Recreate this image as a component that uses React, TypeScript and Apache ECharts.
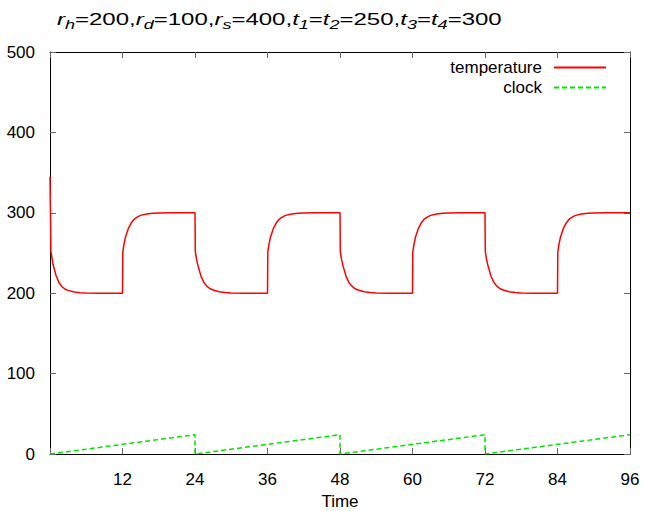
import React, { useEffect, useRef } from "react";
import * as echarts from "echarts";

// Temperature readings, [time, value], one list per half cycle
const cooling0 = [[0, 345], [0.15, 252], [0.5, 236], [1, 222], [1.5, 213], [2, 208], [2.5, 205], [3, 203.5], [4, 201.5], [5, 200.6], [6, 200.3], [8, 200], [12, 200]];
const heating0 = [[12.05, 251], [12.25, 261], [12.5, 270], [13, 281], [13.5, 288], [14, 292.5], [14.5, 295], [15, 296.8], [16, 298.6], [17, 299.4], [18, 299.7], [20, 300], [24, 300]];
const cooling1 = [[24.05, 252], [24.25, 242], [24.5, 234], [25, 221], [25.5, 213], [26, 208.5], [26.5, 205.5], [27, 204], [28, 201.8], [29, 200.8], [30, 200.4], [32, 200], [36, 200]];
const heating1 = [[36.05, 251], [36.25, 261], [36.5, 270], [37, 281], [37.5, 288], [38, 292.5], [38.5, 295], [39, 296.8], [40, 298.6], [41, 299.4], [42, 299.7], [44, 300], [48, 300]];
const cooling2 = [[48.05, 252], [48.25, 242], [48.5, 234], [49, 221], [49.5, 213], [50, 208.5], [50.5, 205.5], [51, 204], [52, 201.8], [53, 200.8], [54, 200.4], [56, 200], [60, 200]];
const heating2 = [[60.05, 251], [60.25, 261], [60.5, 270], [61, 281], [61.5, 288], [62, 292.5], [62.5, 295], [63, 296.8], [64, 298.6], [65, 299.4], [66, 299.7], [68, 300], [72, 300]];
const cooling3 = [[72.05, 252], [72.25, 242], [72.5, 234], [73, 221], [73.5, 213], [74, 208.5], [74.5, 205.5], [75, 204], [76, 201.8], [77, 200.8], [78, 200.4], [80, 200], [84, 200]];
const heating3 = [[84.05, 251], [84.25, 261], [84.5, 270], [85, 281], [85.5, 288], [86, 292.5], [86.5, 295], [87, 296.8], [88, 298.6], [89, 299.4], [90, 299.7], [92, 300], [96, 300]];

// Clock sawtooth, [time, value]
const clock = [[0, 0], [24, 24], [24, 0], [48, 24], [48, 0], [72, 24], [72, 0], [96, 24]];

const xTicks = { min: 0, max: 96, interval: 12 };
const yTicks = { min: 0, max: 500, interval: 100 };
const seriesNames = ["temperature", "clock"];

const FONT = "Liberation Sans";

export default function App() {
  const ref = useRef<HTMLDivElement>(null);
  useEffect(() => {
    if (!ref.current) return;
    const chart = echarts.init(ref.current, null, { renderer: "svg" });
    const temperature = [
      ...cooling0, ...heating0, ...cooling1, ...heating1,
      ...cooling2, ...heating2, ...cooling3, ...heating3,
    ];
    const axisLine = { show: true, onZero: false, lineStyle: { color: "#000", width: 1 } };
    const axisTick = { show: true, inside: true, length: 6, lineStyle: { color: "#666", width: 1 } };
    const labelStyle = { fontSize: 17, color: "#000", fontFamily: FONT };
    chart.setOption({
      animation: false,
      backgroundColor: "#fff",
      graphic: [
        {
          type: "text",
          x: 57,
          y: 10,
          scaleX: 1.5,
          scaleY: 1,
          style: {
            text:
              "{i|r}{s|h}{n|=200,}{i|r}{s|d}{n|=100,}{i|r}{s|s}{n|=400,}{i|t}{s|1}{n|=}{i|t}{s|2}{n|=250,}{i|t}{s|3}{n|=}{i|t}{s|4}{n|=300}",
            textAlign: "left",
            textVerticalAlign: "top",
            fill: "#000",
            rich: {
              n: { fontSize: 16, fontFamily: FONT, fontWeight: "normal", fill: "#000", lineHeight: 20 },
              i: { fontSize: 16, fontFamily: FONT, fontWeight: "normal", fontStyle: "italic", fill: "#000", lineHeight: 20 },
              s: { fontSize: 12, fontFamily: FONT, fontWeight: "normal", fontStyle: "italic", fill: "#000", lineHeight: 20, padding: [9, 0, 0, 0] },
            },
          },
        },
      ],
      legend: {
        orient: "vertical",
        right: 33,
        top: 54,
        align: "right",
        itemWidth: 52,
        itemHeight: 14,
        itemGap: 3,
        data: seriesNames,
        itemStyle: { opacity: 0 },
        textStyle: { fontSize: 17, color: "#000", fontFamily: FONT, padding: [0, 7, 0, 0] },
      },
      grid: { left: 50, right: 15, top: 52, bottom: 57, containLabel: false, outerBoundsMode: "none" },
      xAxis: [
        {
          type: "value",
          position: "bottom",
          ...xTicks,
          axisLine,
          axisTick,
          splitLine: { show: false },
          axisLabel: { ...labelStyle, margin: 17, formatter: (v: number) => (v === 0 ? "" : String(v)) },
          name: "Time",
          nameLocation: "middle",
          nameGap: 39,
          nameTextStyle: { fontSize: 17, lineHeight: 17, color: "#000", fontFamily: FONT },
        },
        {
          type: "value",
          position: "top",
          ...xTicks,
          axisLine,
          axisTick,
          splitLine: { show: false },
          axisLabel: { show: false },
        },
      ],
      yAxis: [
        {
          type: "value",
          position: "left",
          ...yTicks,
          axisLine,
          axisTick,
          splitLine: { show: false },
          axisLabel: { ...labelStyle, margin: 15 },
        },
        {
          type: "value",
          position: "right",
          ...yTicks,
          axisLine,
          axisTick,
          splitLine: { show: false },
          axisLabel: { show: false },
        },
      ],
      series: [
        {
          name: seriesNames[0],
          type: "line",
          data: temperature,
          showSymbol: false,
          symbol: "none",
          color: "#ff0000",
          lineStyle: { color: "#ff0000", width: 1.5 },
        },
        {
          name: seriesNames[1],
          type: "line",
          data: clock,
          showSymbol: false,
          symbol: "none",
          color: "#00e600",
          lineStyle: { color: "#00e600", width: 1.5, type: [5, 3] },
        },
      ],
    });
    return () => chart.dispose();
  }, []);
  return <div ref={ref} style={{ position: "fixed", left: 0, top: 0, width: 645, height: 511 }} />;
}
